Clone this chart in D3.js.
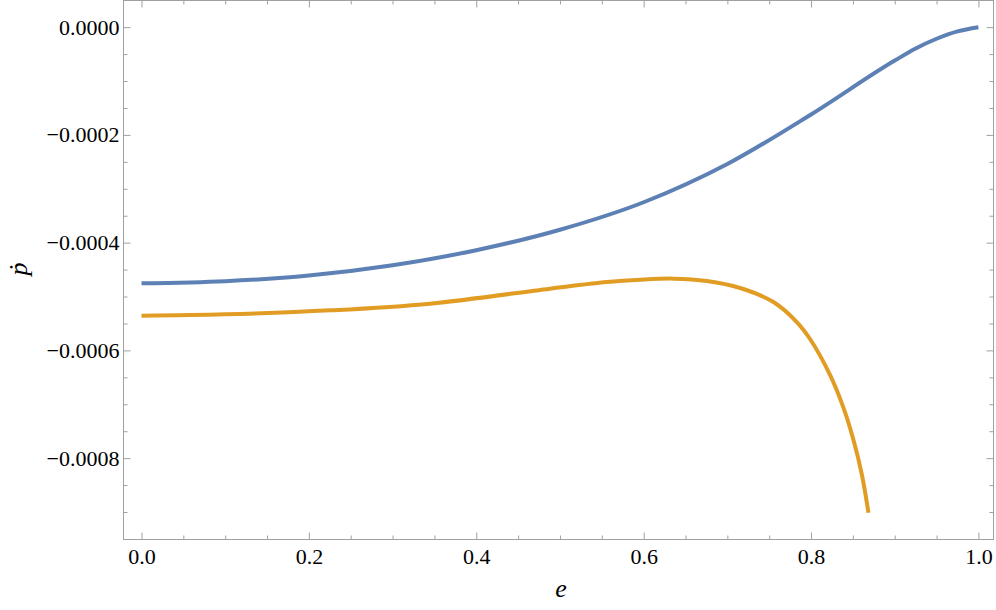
<!DOCTYPE html>
<html>
<head>
<meta charset="utf-8">
<script src="https://cdn.jsdelivr.net/npm/d3@7"></script>
<style>
  html, body { margin: 0; padding: 0; background: #fff; }
  svg { display: block; }
</style>
</head>
<body>
<svg id="chart" width="996" height="610"></svg>
<script>
// ---- data ----
const blueE = [0, 0.1, 0.2, 0.3, 0.4, 0.5, 0.6, 0.7, 0.8, 0.9, 0.925, 0.95, 0.975, 1.0];
const blueP = [-0.0004755, -0.0004715, -0.000461, -0.000442, -0.000414, -0.000376, -0.000325, -0.000254, -0.000162, -0.000062, -0.0000395, -0.0000215, -0.0000078, 0];

const orangeE = [0, 0.10, 0.226, 0.345, 0.488, 0.556, 0.596, 0.636, 0.6755, 0.7153, 0.755, 0.783, 0.799, 0.8228, 0.8387, 0.8507, 0.8607, 0.8686];
const orangeP = [-0.0005355, -0.000533, -0.0005256, -0.0005132, -0.0004854, -0.0004731, -0.0004687, -0.0004668, -0.0004712, -0.0004842, -0.0005102, -0.0005473, -0.0005793, -0.0006459, -0.0007063, -0.0007663, -0.0008303, -0.0009014];

const xMajor = [0, 0.2, 0.4, 0.6, 0.8, 1.0];
const yMajor = [0, -0.0002, -0.0004, -0.0006, -0.0008];
const xLabel = "e";
const yLabel = "\u1E57";

// ---- layout ----
const svg = d3.select("#chart");
const L = 123.5, R = 993.5, T = 0.5, B = 539.5;
const x = d3.scaleLinear().domain([-0.0215, 1.018]).range([L, R]);
const y = d3.scaleLinear().domain([-0.000951, 0.0000495]).range([B, T]);

const frameColor = "#a0a0a0";
const serif = "Liberation Serif";

const xMinor = d3.range(0, 1.0001, 0.05).filter(v => !xMajor.some(m => Math.abs(m - v) < 1e-9));
const yMinor = d3.range(0, -0.00095, -0.00005).filter(v => !yMajor.some(m => Math.abs(m - v) < 1e-12));

function styleAxis(g) {
  g.attr("font-family", serif).attr("font-size", 22);
  g.select(".domain").remove();
  g.selectAll(".tick line").attr("stroke", frameColor).attr("stroke-width", 1);
  g.selectAll(".tick text").attr("fill", "#000");
}

// bottom
svg.append("g").attr("transform", `translate(0,${B})`)
  .call(d3.axisBottom(x).tickValues(xMajor).tickSize(-7).tickPadding(9).tickFormat(d3.format(".1f")))
  .call(styleAxis);
svg.append("g").attr("transform", `translate(0,${B})`)
  .call(d3.axisBottom(x).tickValues(xMinor).tickSize(-4).tickFormat(""))
  .call(styleAxis);
// top
svg.append("g").attr("transform", `translate(0,${T})`)
  .call(d3.axisTop(x).tickValues(xMajor).tickSize(-7).tickFormat(""))
  .call(styleAxis);
svg.append("g").attr("transform", `translate(0,${T})`)
  .call(d3.axisTop(x).tickValues(xMinor).tickSize(-4).tickFormat(""))
  .call(styleAxis);
// left
svg.append("g").attr("transform", `translate(${L},0)`)
  .call(d3.axisLeft(y).tickValues(yMajor).tickSize(-7).tickPadding(4).tickFormat(d3.format(".4f")))
  .call(styleAxis);
svg.append("g").attr("transform", `translate(${L},0)`)
  .call(d3.axisLeft(y).tickValues(yMinor).tickSize(-4).tickFormat(""))
  .call(styleAxis);
// right
svg.append("g").attr("transform", `translate(${R},0)`)
  .call(d3.axisRight(y).tickValues(yMajor).tickSize(-7).tickFormat(""))
  .call(styleAxis);
svg.append("g").attr("transform", `translate(${R},0)`)
  .call(d3.axisRight(y).tickValues(yMinor).tickSize(-4).tickFormat(""))
  .call(styleAxis);

// frame
svg.append("rect").attr("x", L).attr("y", T).attr("width", R - L).attr("height", B - T)
  .attr("fill", "none").attr("stroke", frameColor).attr("stroke-width", 1);

// curves
const blueLine = d3.line().x(d => x(d[0])).y(d => y(d[1])).curve(d3.curveMonotoneX);
const orangeLine = d3.line().x(d => x(d[0])).y(d => y(d[1])).curve(d3.curveCatmullRom.alpha(0.5));
svg.append("path").datum(d3.zip(blueE, blueP))
  .attr("d", blueLine).attr("fill", "none").attr("stroke", "#5E81B5").attr("stroke-width", 4);
svg.append("path").datum(d3.zip(orangeE, orangeP))
  .attr("d", orangeLine).attr("fill", "none").attr("stroke", "#E19C24").attr("stroke-width", 4);

// axis labels
svg.append("text").attr("x", 561).attr("y", 597).attr("text-anchor", "middle")
  .attr("font-family", serif).attr("font-style", "italic").attr("font-size", 26)
  .text(xLabel);
svg.append("text").attr("transform", "translate(27,269) rotate(-90)").attr("text-anchor", "middle")
  .attr("font-family", serif).attr("font-style", "italic").attr("font-size", 26)
  .text(yLabel);
</script>
</body>
</html>
